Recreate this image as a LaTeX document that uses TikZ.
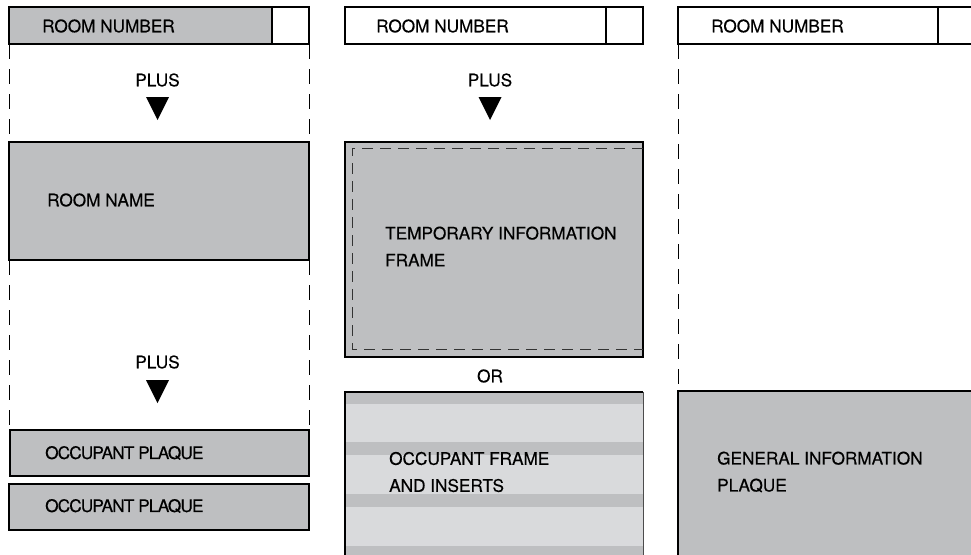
\documentclass[tikz,border=0pt]{standalone}
\usepackage{fontspec}
\setmainfont{TeX Gyre Heros}[FakeBold=0.4]
\definecolor{plaquegray}{HTML}{BEBFC1}
\definecolor{lightgray}{HTML}{D9DADC}
\definecolor{dashgray}{HTML}{333333}
\begin{document}
\begin{tikzpicture}[x=1pt,y=-1pt,
  thickbox/.style={line width=2.5pt,draw=black},
  sidedash/.style={line width=1pt,draw=black,dash pattern=on 15pt off 10pt},
  innerdash/.style={line width=1pt,draw=dashgray,dash pattern=on 11pt off 7pt},
  lbl/.style={font=\fontsize{17.2}{27}\selectfont,anchor=west,inner sep=0pt,align=left},
  tightlbl/.style={lbl,font=\fontsize{17.2}{27}\selectfont\addfontfeatures{LetterSpace=-5}},
  clbl/.style={font=\fontsize{17.2}{27}\selectfont,anchor=center,inner sep=0pt},
  tri/.style={fill=black}]
\useasboundingbox (0,0) rectangle (971,554);
\clip (0,0) rectangle (971,554);

% ---------- left column ----------
\filldraw[thickbox,fill=plaquegray] (9,7) rectangle (272,44);
\draw[thickbox,fill=white] (272,7) rectangle (309,44);
\node[lbl] (rn1) at (42,26) {ROOM NUMBER};
\draw[sidedash] (9,44) -- (9,142);
\draw[sidedash] (309,44) -- (309,142);
\node[clbl] (plus1) at (157.5,80) {PLUS};
\fill[tri] (146,97) -- (169,97) -- (157.5,120) -- cycle;
\filldraw[thickbox,fill=plaquegray] (9,142) rectangle (309,260);
\node[lbl] (rname) at (47,200) {ROOM NAME};
\draw[sidedash] (9,260) -- (9,430);
\draw[sidedash] (309,260) -- (309,430);
\node[clbl] (plus2) at (157.5,362) {PLUS};
\fill[tri] (146,380) -- (169,380) -- (157.5,403) -- cycle;
\filldraw[thickbox,fill=plaquegray] (10,430) rectangle (309,476);
\node[tightlbl] (op1) at (45,453) {OCCUPANT PLAQUE};
\filldraw[thickbox,fill=plaquegray] (9,484) rectangle (309,530);
\node[tightlbl] (op2) at (45,506) {OCCUPANT PLAQUE};

% ---------- middle column ----------
\draw[thickbox,fill=white] (345,7) rectangle (606,44);
\draw[thickbox,fill=white] (606,7) rectangle (643,44);
\node[lbl] (rn2) at (376,26) {ROOM NUMBER};
\node[clbl] (plus3) at (490,80) {PLUS};
\fill[tri] (478.5,97) -- (501.5,97) -- (490,120) -- cycle;
\filldraw[thickbox,fill=plaquegray] (345,142) rectangle (643,357);
\draw[innerdash] (643,148) -- (352,148) -- (352,349) -- (643,349);
\node[lbl] (tif) at (385,246.5) {TEMPORARY INFORMATION\\FRAME};
\node[clbl] (or) at (490,376) {OR};
\fill[lightgray] (345,392) rectangle (643,560);
\foreach \ya/\yb in {392/404, 442/455, 494/507, 546/559}
  \fill[plaquegray] (345,\ya) rectangle (643,\yb);
\draw[line width=0.8pt,draw=black!70] (643,392) -- (643,560);
\draw[thickbox] (345,560) -- (345,392) -- (643,392);
\node[lbl] (ofi) at (389,472) {OCCUPANT FRAME\\AND INSERTS};

% ---------- right column ----------
\draw[thickbox,fill=white] (678,7) rectangle (938,44);
\draw[thickbox,fill=white] (938,7) rectangle (990,44);
\node[lbl] (rn3) at (711,26) {ROOM NUMBER};
\draw[sidedash] (678,44) -- (678,391);
\fill[plaquegray] (678,391) rectangle (990,560);
\draw[thickbox] (678,560) -- (678,391) -- (990,391);
\node[lbl] (gip) at (717,472) {GENERAL INFORMATION\\PLAQUE};
\end{tikzpicture}
\end{document}
